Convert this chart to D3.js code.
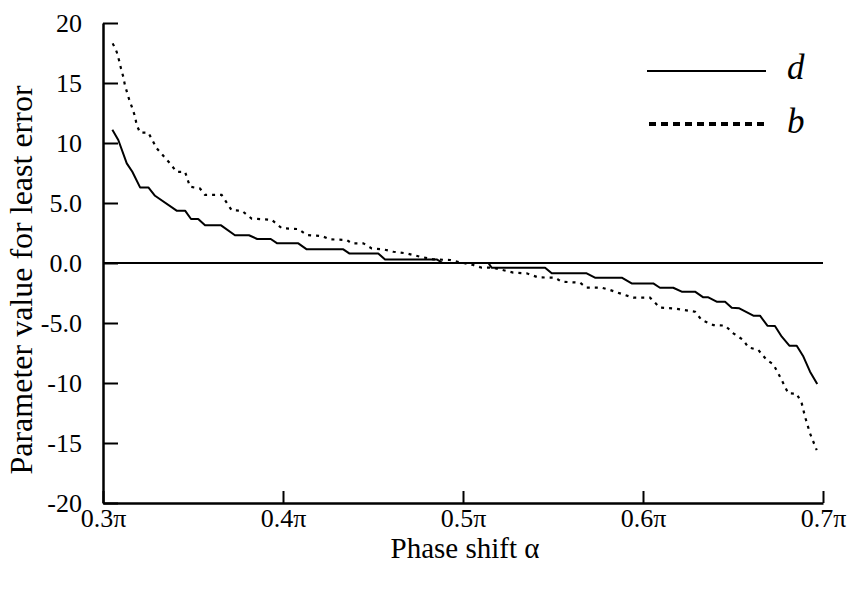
<!DOCTYPE html>
<html>
<head>
<meta charset="utf-8">
<script src="https://cdn.jsdelivr.net/npm/d3@7"></script>
<style>
  html, body { margin: 0; padding: 0; background: #fff; }
  svg { display: block; }
  text { font-family: "Liberation Serif", "Times New Roman", Times, "DejaVu Serif", serif; fill: #000; }
</style>
</head>
<body>
<svg id="chart" width="847" height="590"></svg>
<script>
// Phase shift alpha (in units of pi) and the best-fit parameter values
const alphaD = [0.3052, 0.3085, 0.3132, 0.3163, 0.3206, 0.3252, 0.3289, 0.3409, 0.3456, 0.3489,
  0.3529, 0.3567, 0.3656, 0.3733, 0.3811, 0.3857, 0.3932, 0.3968, 0.4085, 0.4132,
  0.4335, 0.4368, 0.4529, 0.4567, 0.4854, 0.4887, 0.5141, 0.5159, 0.5456, 0.5493,
  0.5687, 0.5733, 0.5882, 0.5937, 0.6057, 0.6094, 0.6168, 0.6215, 0.6289, 0.6335,
  0.6363, 0.6409, 0.6456, 0.6493, 0.6535, 0.6613, 0.6650, 0.6691, 0.6733, 0.6771,
  0.6813, 0.6854, 0.6891, 0.6928, 0.6968];
const valuesD = [11.1, 10.25, 8.3, 7.6, 6.3, 6.3, 5.6, 4.36, 4.36, 3.67,
  3.67, 3.14, 3.14, 2.31, 2.31, 2.0, 2.0, 1.64, 1.64, 1.14,
  1.14, 0.8, 0.8, 0.3, 0.3, 0.0, 0.0, -0.39, -0.39, -0.86,
  -0.86, -1.22, -1.22, -1.7, -1.7, -2.06, -2.06, -2.39, -2.39, -2.86,
  -2.86, -3.22, -3.22, -3.72, -3.78, -4.39, -4.39, -5.22, -5.25, -6.14,
  -6.89, -6.89, -7.8, -9.06, -10.08];

const alphaB = [0.3054, 0.3076, 0.3089, 0.3100, 0.3113, 0.3122, 0.3132, 0.3146, 0.3163, 0.3178,
  0.3187, 0.3206, 0.3252, 0.3298, 0.3372, 0.3409, 0.3456, 0.3483, 0.3539, 0.3567,
  0.3659, 0.3715, 0.3771, 0.3826, 0.3937, 0.3993, 0.4085, 0.4132, 0.4215, 0.4261,
  0.4354, 0.4383, 0.4446, 0.4493, 0.4557, 0.4613, 0.4687, 0.4761, 0.4835, 0.4928,
  0.4983, 0.5057, 0.5104, 0.5168, 0.5279, 0.5354, 0.5418, 0.5511, 0.5548, 0.5650,
  0.5687, 0.5771, 0.5817, 0.5872, 0.5946, 0.6039, 0.6094, 0.6168, 0.6289, 0.6326,
  0.6391, 0.6456, 0.6502, 0.6557, 0.6585, 0.6641, 0.6687, 0.6724, 0.6761, 0.6807,
  0.6854, 0.6882, 0.6900, 0.6928, 0.6965];
const valuesB = [18.3, 17.6, 16.9, 16.2, 15.5, 14.8, 14.3, 13.6, 12.9, 12.2,
  11.5, 10.86, 10.86, 9.56, 8.3, 7.6, 7.6, 6.36, 6.2, 5.67,
  5.67, 4.4, 4.36, 3.7, 3.6, 2.9, 2.83, 2.33, 2.25, 1.97,
  1.92, 1.64, 1.64, 1.22, 1.14, 0.94, 0.8, 0.53, 0.3, 0.25,
  0.06, -0.17, -0.39, -0.39, -0.8, -0.86, -1.2, -1.22, -1.56, -1.64,
  -2.06, -2.06, -2.25, -2.53, -2.89, -2.89, -3.72, -3.78, -4.06, -4.75,
  -5.17, -5.22, -5.86, -6.42, -7.03, -7.25, -8.08, -8.44, -9.47, -10.86,
  -10.9, -11.7, -12.8, -14.2, -15.6];

const xTicks = [0.3, 0.4, 0.5, 0.6, 0.7];
const xTickLabels = ["0.3\u03c0", "0.4\u03c0", "0.5\u03c0", "0.6\u03c0", "0.7\u03c0"];
const yTicks = [20, 15, 10, 5, 0, -5, -10, -15, -20];
const yTickLabels = ["20", "15", "10", "5.0", "0.0", "-5.0", "-10", "-15", "-20"];

const seriesNames = ["d", "b"];

const FONT = "'Liberation Serif', 'Times New Roman', Times, 'DejaVu Serif', serif";

const svg = d3.select("#chart");
const margin = { left: 103, right: 24, top: 23, bottom: 87 };
const width = 847 - margin.left - margin.right;
const height = 590 - margin.top - margin.bottom;

const x = d3.scaleLinear().domain([0.3, 0.7]).range([0, width]);
const y = d3.scaleLinear().domain([-20, 20]).range([height, 0]);

const g = svg.append("g").attr("transform", `translate(${margin.left},${margin.top})`);

// zero reference line
g.append("line")
  .attr("x1", x(0.3)).attr("x2", x(0.7))
  .attr("y1", y(0)).attr("y2", y(0))
  .attr("stroke", "#000").attr("stroke-width", 2);

// axes, ticks pointing into the plot
const yAxis = d3.axisLeft(y)
  .tickValues(yTicks)
  .tickFormat((d, i) => yTickLabels[i])
  .tickSizeInner(-15).tickSizeOuter(0).tickPadding(21);
const yG = g.append("g").call(yAxis);

const xAxis = d3.axisBottom(x)
  .tickValues(xTicks)
  .tickFormat((d, i) => xTickLabels[i])
  .tickSizeInner(-12).tickSizeOuter(0).tickPadding(6);
const xG = g.append("g").attr("transform", `translate(0,${height})`).call(xAxis);

[yG, xG].forEach(a => {
  a.attr("font-family", FONT).attr("font-size", 26);
  a.select(".domain").attr("stroke", "#000").attr("stroke-width", 2.5);
  a.selectAll(".tick line").attr("stroke", "#000").attr("stroke-width", 2);
  a.selectAll(".tick text").attr("fill", "#000");
});

// data lines
const line = d3.line().x(d => x(d[0])).y(d => y(d[1]));
const dataD = alphaD.map((a, i) => [a, valuesD[i]]);
const dataB = alphaB.map((a, i) => [a, valuesB[i]]);

g.append("path").datum(dataB)
  .attr("d", line).attr("fill", "none")
  .attr("stroke", "#000").attr("stroke-width", 2.2)
  .attr("stroke-dasharray", "3,5");

g.append("path").datum(dataD)
  .attr("d", line).attr("fill", "none")
  .attr("stroke", "#000").attr("stroke-width", 2)
  .attr("stroke-linejoin", "round");

// legend
const legend = svg.append("g");
legend.append("line")
  .attr("x1", 647).attr("x2", 766).attr("y1", 71).attr("y2", 71)
  .attr("stroke", "#000").attr("stroke-width", 2);
legend.append("line")
  .attr("x1", 649).attr("x2", 766).attr("y1", 124).attr("y2", 124)
  .attr("stroke", "#000").attr("stroke-width", 4)
  .attr("stroke-dasharray", "7,5");
legend.selectAll("text.lbl").data(seriesNames).enter().append("text")
  .attr("class", "lbl")
  .attr("x", 787).attr("y", (d, i) => i === 0 ? 79 : 133)
  .attr("font-family", FONT)
  .attr("font-style", "italic").attr("font-size", 35)
  .text(d => d);

// axis titles
svg.append("text")
  .attr("transform", `translate(32,280) rotate(-90)`)
  .attr("text-anchor", "middle")
  .attr("font-family", FONT)
  .attr("font-size", 32)
  .text("Parameter value for least error");

svg.append("text")
  .attr("x", 465).attr("y", 558)
  .attr("text-anchor", "middle")
  .attr("font-family", FONT)
  .attr("font-size", 29)
  .text("Phase shift \u03b1");
</script>
</body>
</html>
